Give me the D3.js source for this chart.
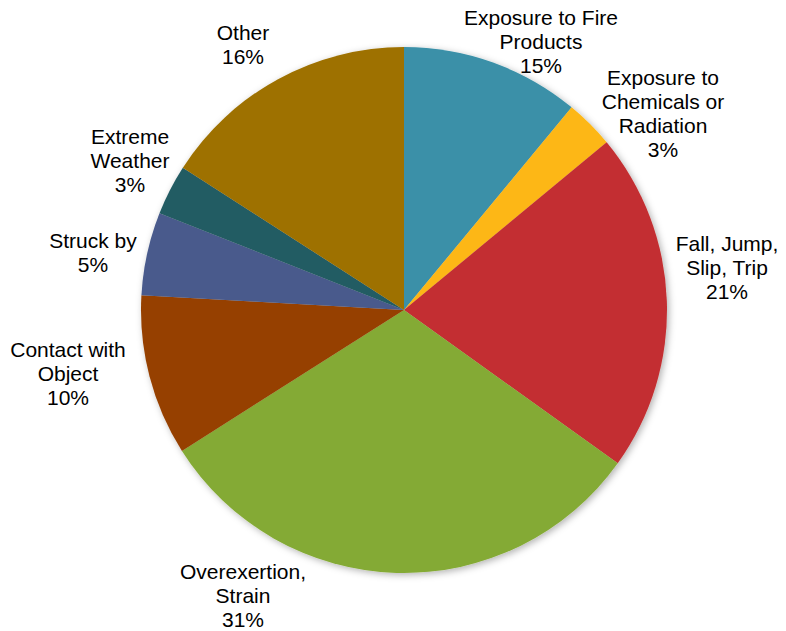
<!DOCTYPE html>
<html>
<head>
<meta charset="utf-8">
<script src="https://cdn.jsdelivr.net/npm/d3@7"></script>
<style>
  html, body { margin: 0; padding: 0; background: #ffffff; }
  svg { display: block; }
  text { font-family: "Liberation Sans", Arial, sans-serif; fill: #000; }
</style>
</head>
<body>
<div id="chart"></div>
<script>
// ---- data ----
const categories = [
  "Exposure to Fire Products",
  "Exposure to Chemicals or Radiation",
  "Fall, Jump, Slip, Trip",
  "Overexertion, Strain",
  "Contact with Object",
  "Struck by",
  "Extreme Weather",
  "Other"
];
const values = [11.0, 3.0, 20.9, 31.1, 9.9, 5.1, 3.1, 15.9];
const percentLabels = ["15%", "3%", "21%", "31%", "10%", "5%", "3%", "16%"];
const labelLines = [
  ["Exposure to Fire", "Products"],
  ["Exposure to", "Chemicals or", "Radiation"],
  ["Fall, Jump,", "Slip, Trip"],
  ["Overexertion,", "Strain"],
  ["Contact with", "Object"],
  ["Struck by"],
  ["Extreme", "Weather"],
  ["Other"]
];
const colors = ["#3A90A8", "#FDB715", "#C32F30", "#84AA34", "#964105", "#485A8C", "#235B63", "#9E7100"];

// label placement (centre x, first line y), relative to the pie centre
const labelPos = [
  [137, -292], [259, -232], [323, -66], [-161, 262],
  [-336, 40], [-311, -69], [-274, -173], [-161, -277]
];

// ---- layout ----
const W = 786, H = 631;
const cx = 404, cy = 310, R = 263;
const fontSize = 21, lineH = 23.8;

const svg = d3.select("#chart").append("svg").attr("width", W).attr("height", H);

const defs = svg.append("defs");
const f = defs.append("filter").attr("id", "shadow")
  .attr("x", "-10%").attr("y", "-10%").attr("width", "120%").attr("height", "120%");
f.append("feDropShadow").attr("dx", 2).attr("dy", 2).attr("stdDeviation", 3.5)
  .attr("flood-color", "#000").attr("flood-opacity", 0.3);

const pie = d3.pie().sort(null).value(d => d);
const arc = d3.arc().innerRadius(0).outerRadius(R);
const arcs = pie(values);

const g = svg.append("g").attr("transform", `translate(${cx},${cy})`);
const sl = g.append("g").attr("filter", "url(#shadow)");
sl.selectAll("path").data(arcs).join("path")
  .attr("d", arc)
  .attr("fill", (d, i) => colors[i]);

const lab = g.append("g");
arcs.forEach((d, i) => {
  const lines = labelLines[i].concat([percentLabels[i]]);
  const t = lab.append("text")
    .attr("text-anchor", "middle")
    .attr("font-size", fontSize)
    .attr("x", labelPos[i][0])
    .attr("y", labelPos[i][1]);
  lines.forEach((s, k) => {
    t.append("tspan").attr("x", labelPos[i][0]).attr("dy", k === 0 ? "0.35em" : lineH).text(s);
  });
});
</script>
</body>
</html>
